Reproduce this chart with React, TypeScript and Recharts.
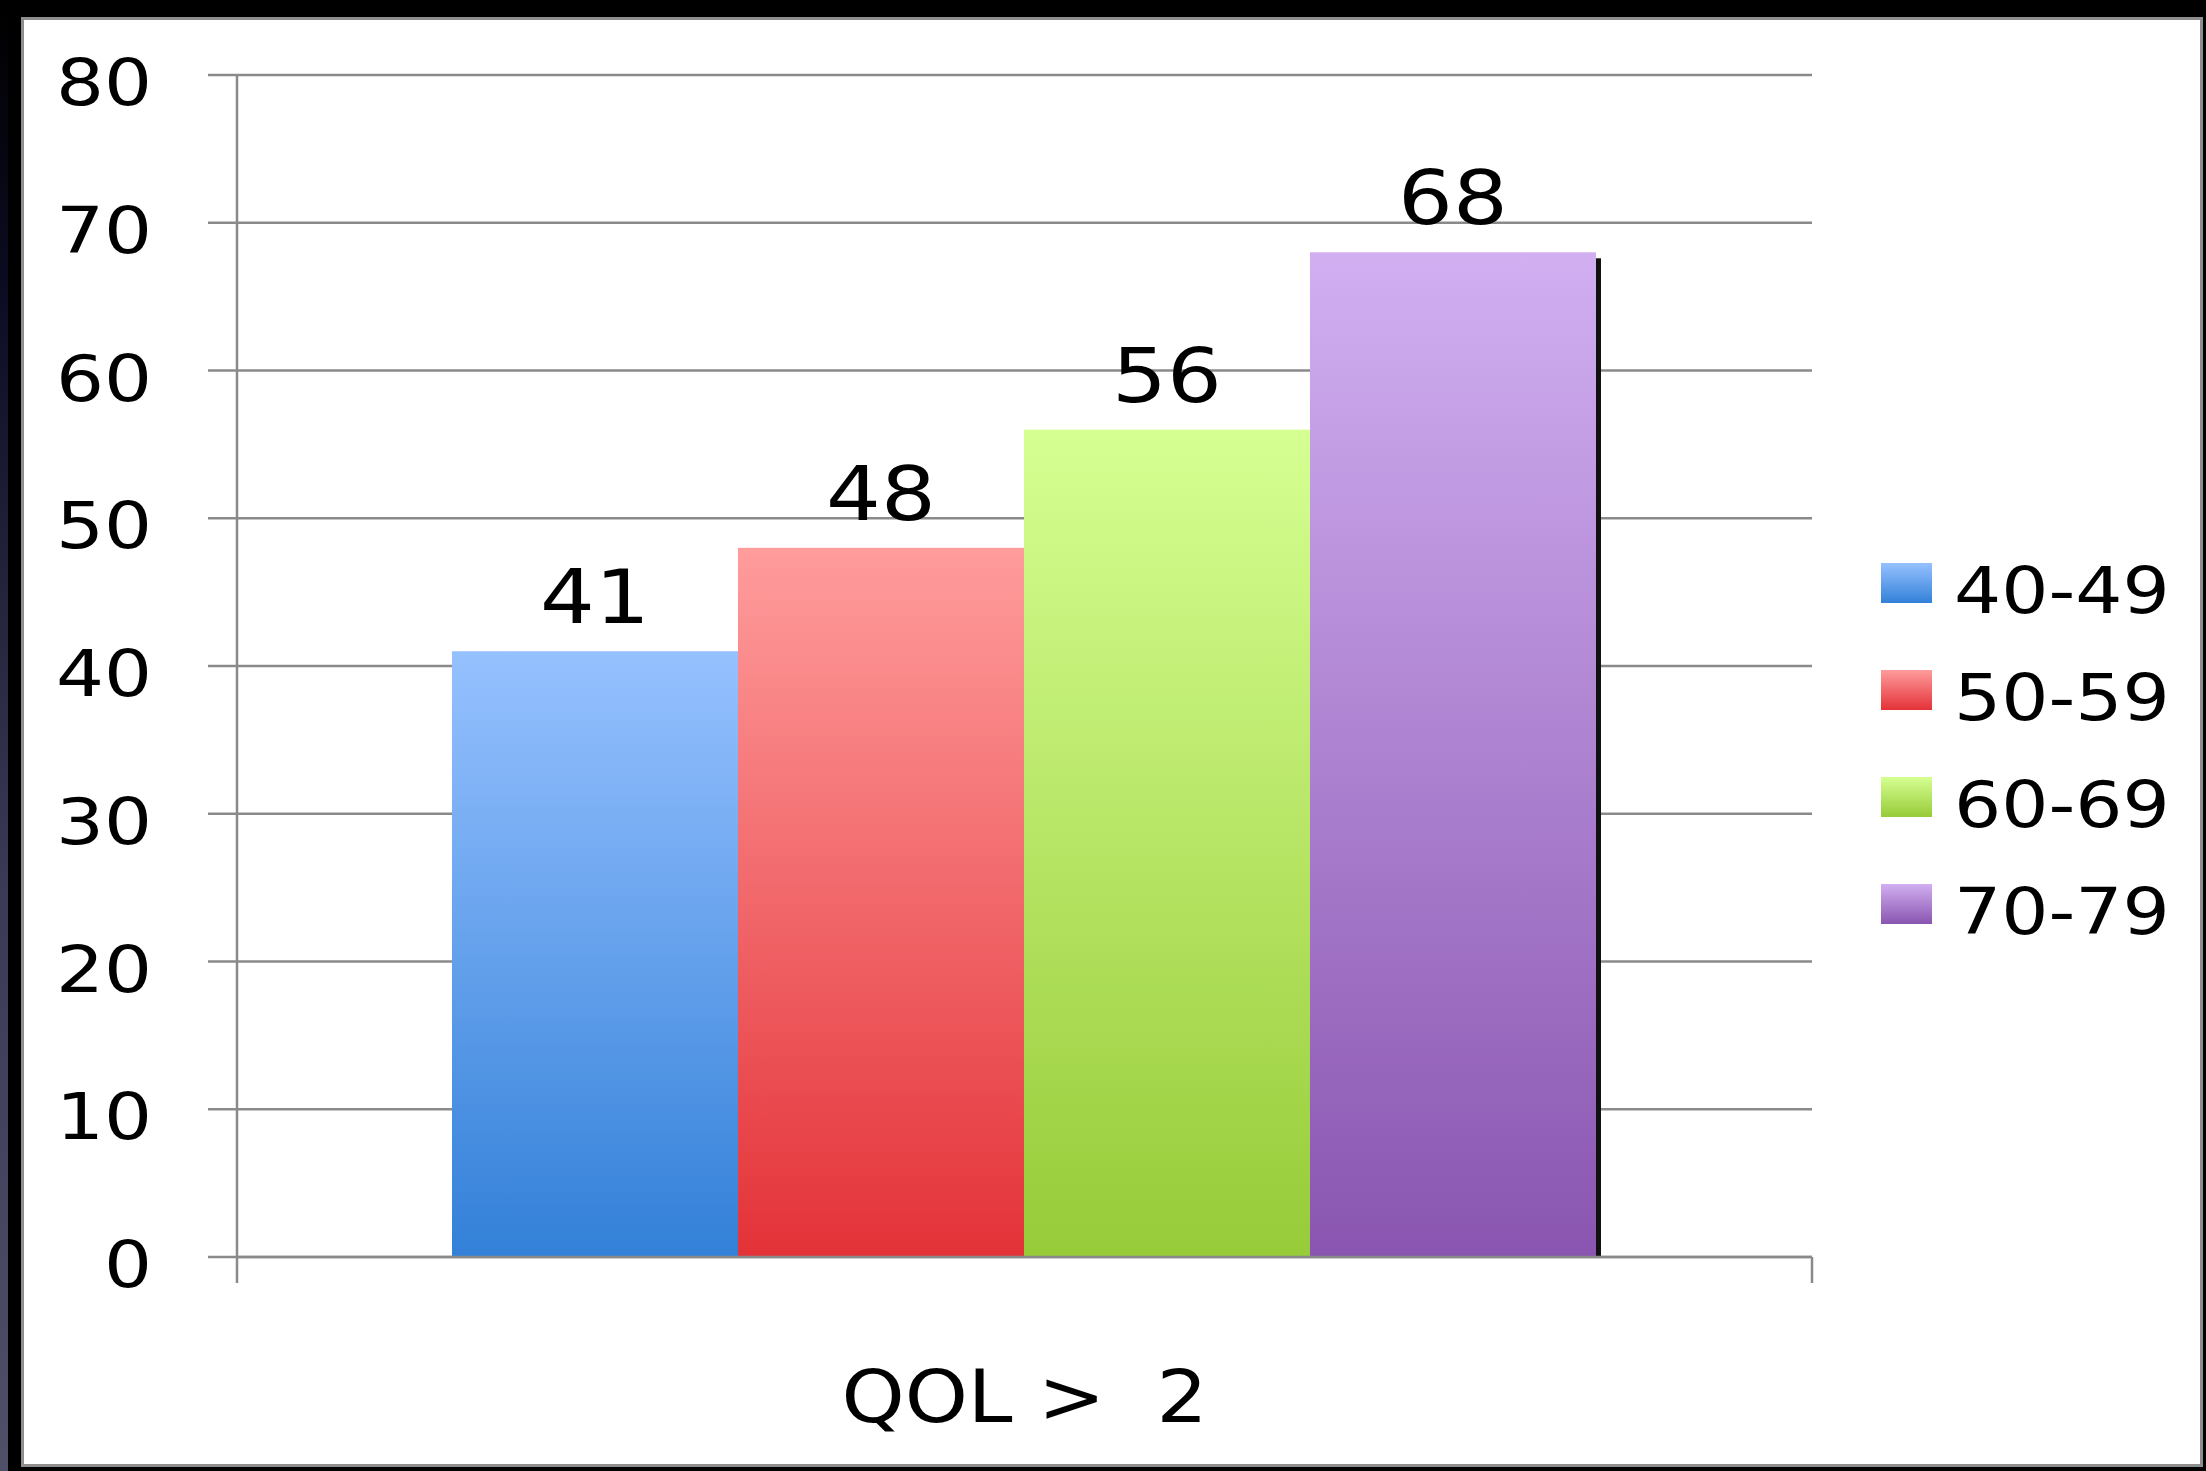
import { BarChart, Bar, XAxis, YAxis, CartesianGrid, Legend, LabelList } from "recharts";

// age groups and the share reporting QOL > 2
const groups = ["40-49", "50-59", "60-69", "70-79"];
const values = [41, 48, 56, 68];
const category = "QOL >\u00a0 2";
const yTicks = [0, 10, 20, 30, 40, 50, 60, 70, 80];

const topColors = ["#96c1ff", "#ff9c9c", "#d6ff92", "#d1aff1"];
const bottomColors = ["#3280d8", "#e33238", "#97cb38", "#8955b0"];

const W = 2206;
const H = 1471;
const PLOT_LEFT = 237;
const PLOT_RIGHT = 1812;
const PLOT_TOP = 75;
const PLOT_BOTTOM = 1257;
const LEGEND_W = 320; // the legend box is added to the right offset by recharts
const FONT = "'DejaVu Sans', Verdana, sans-serif";
const GRID = "#8a8a8a";

const row: Record<string, string | number> = { name: category };
groups.forEach((_, i) => {
  row[`s${i}`] = values[i];
});
const data = [row];

// bar with a thin dark drop shadow on its right edge
const ShadowBar = (props: any) => {
  const { x, y, width, height, fill } = props;
  if (!height || height <= 0) return null;
  return (
    <g>
      <rect x={x + width - 1} y={y + 6} width={6} height={height - 6} fill="#111" />
      <rect x={x} y={y} width={width} height={height} fill={fill} />
    </g>
  );
};

const YTick = ({ x, y, payload }: any) => (
  <g transform={`translate(${x},${y}) scale(1.18,1)`}>
    <text textAnchor="end" dy={30} fontSize={64} fontFamily={FONT} fill="#000">
      {payload.value}
    </text>
  </g>
);

const XTick = ({ x, payload }: any) => (
  <g>
    <line x1={PLOT_LEFT} x2={PLOT_LEFT} y1={PLOT_BOTTOM} y2={PLOT_BOTTOM + 26} stroke={GRID} strokeWidth={2.5} />
    <line x1={PLOT_RIGHT} x2={PLOT_RIGHT} y1={PLOT_BOTTOM} y2={PLOT_BOTTOM + 26} stroke={GRID} strokeWidth={2.5} />
    <g transform={`translate(${x},${PLOT_BOTTOM + 165}) scale(1.1,1)`}>
      <text textAnchor="middle" fontSize={73} fontFamily={FONT} fill="#000">
        {payload.value}
      </text>
    </g>
  </g>
);

const ValueLabel = (props: any) => {
  const vb = props.viewBox ?? props;
  const x = props.x ?? vb.x;
  const y = props.y ?? vb.y;
  const width = props.width ?? vb.width;
  return (
    <g transform={`translate(${x + width / 2},${y - 28}) scale(1.15,1)`}>
      <text textAnchor="middle" fontSize={75} fontFamily={FONT} fill="#000">
        {props.value}
      </text>
    </g>
  );
};

const LegendBox = () => (
  <svg width={LEGEND_W} height={440}>
    {groups.map((g, i) => (
      <g key={g} transform={`translate(0,${i * 107})`}>
        <rect x={0} y={23} width={51} height={40} fill={`url(#grad${i})`} />
        <g transform="translate(73,73) scale(1.16,1)">
          <text fontSize={64} fontFamily={FONT} fill="#000">
            {g}
          </text>
        </g>
      </g>
    ))}
  </svg>
);

export default function App() {
  return (
    <div style={{ position: "absolute", left: 0, top: 0, width: W, height: H, background: "#000", overflow: "hidden" }}>
      <div
        style={{
          position: "absolute",
          left: 0,
          top: 0,
          width: 8,
          height: H,
          background: "linear-gradient(to bottom, #000 0%, #0c0c22 20%, #3a3a55 60%, #4f4f68 100%)",
        }}
      />
      <div
        style={{
          position: "absolute",
          left: 21,
          top: 17,
          width: 2182,
          height: 1450,
          background: "#fff",
          border: "3px solid #8e8e8e",
          boxSizing: "border-box",
        }}
      />
      <div style={{ position: "absolute", left: 0, top: 0 }}>
        <BarChart
          width={W}
          height={H}
          data={data}
          margin={{ top: PLOT_TOP, left: 0, right: W - PLOT_RIGHT - LEGEND_W, bottom: 0 }}
          barGap={0}
          barCategoryGap={215}
        >
          <defs>
            {groups.map((g, i) => (
              <linearGradient key={g} id={`grad${i}`} x1="0" y1="0" x2="0" y2="1">
                <stop offset="0%" stopColor={topColors[i]} />
                <stop offset="100%" stopColor={bottomColors[i]} />
              </linearGradient>
            ))}
          </defs>
          <CartesianGrid vertical={false} stroke={GRID} strokeWidth={2.5} />
          <XAxis
            dataKey="name"
            height={H - PLOT_BOTTOM}
            axisLine={{ stroke: GRID, strokeWidth: 2.5 }}
            tickLine={false}
            tick={<XTick />}
            interval={0}
          />
          <YAxis
            width={PLOT_LEFT}
            domain={[0, 80]}
            ticks={yTicks}
            interval={0}
            axisLine={{ stroke: GRID, strokeWidth: 2.5 }}
            tickLine={{ stroke: GRID, strokeWidth: 2.5 }}
            tickSize={29}
            tickMargin={56}
            tick={<YTick />}
          />
          <Legend
            layout="horizontal"
            verticalAlign="middle"
            align="right"
            wrapperStyle={{ left: 1881, top: 540, width: LEGEND_W }}
            content={<LegendBox />}
          />
          {groups.map((g, i) => (
            <Bar key={g} dataKey={`s${i}`} name={g} fill={`url(#grad${i})`} shape={<ShadowBar />} isAnimationActive={false}>
              <LabelList dataKey={`s${i}`} content={<ValueLabel />} />
            </Bar>
          ))}
        </BarChart>
      </div>
    </div>
  );
}
